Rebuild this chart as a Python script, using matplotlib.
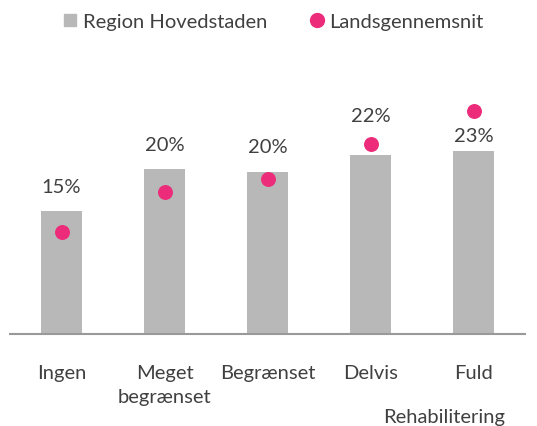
import matplotlib.pyplot as plt
import numpy as np

categories = ["Ingen", "Meget\nbegrænset", "Begrænset", "Delvis", "Fuld"]
region_values = [15.1, 20.4, 20.0, 22.1, 22.6]
region_labels = ["15%", "20%", "20%", "22%", "23%"]
national_values = [12.6, 17.5, 19.1, 23.4, 27.5]

plt.rcParams['font.family'] = ['Lato', 'DejaVu Sans']
text_color = "#404040"
bar_color = "#B8B8B8"
dot_color = "#EC2C7A"
fs = 14.5

fig = plt.figure(figsize=(5.37, 4.27), dpi=100)
ax = fig.add_axes([10 / 537, 0.216, 515 / 537, 243 / 427])

x = np.arange(len(categories))
ax.bar(x, region_values, width=0.4, color=bar_color, label="Region Hovedstaden", zorder=2)
ax.scatter(x, national_values, s=95, color=dot_color, label="Landsgennemsnit", zorder=3)

# labels were nudged by hand in the original so they don't hit the dots
label_offsets = [18, 17.5, 18, 28, 11]
for xi, v, lab, off in zip(x, region_values, region_labels, label_offsets):
    ax.annotate(lab, (xi, v), xytext=(0, off), textcoords="offset points",
                ha="center", va="center", fontsize=fs, color=text_color)

ax.set_xlim(-0.5, 4.5)
ax.set_ylim(0, 30)
ax.set_yticks([])
ax.set_xticks(x)
ax.set_xticklabels(categories, fontsize=fs, color=text_color, linespacing=1.45)
ax.tick_params(axis="x", length=0, pad=22)
for side in ["top", "right", "left"]:
    ax.spines[side].set_visible(False)
ax.spines["bottom"].set_color("#999999")
ax.spines["bottom"].set_linewidth(1.5)

fig.text(444 / 537, 1 - 426 / 427, "Rehabilitering", ha="center", va="bottom",
         fontsize=fs, color=text_color)

handles = [
    plt.Line2D([], [], marker="s", linestyle="", color=bar_color, markersize=9),
    plt.Line2D([], [], marker="o", linestyle="", color=dot_color, markersize=10),
]
leg = fig.legend(handles, ["Region Hovedstaden", "Landsgennemsnit"], loc="center",
                 bbox_to_anchor=(272 / 537, 1 - 22 / 427), ncol=2, frameon=False,
                 fontsize=fs, handletextpad=0.1, columnspacing=2.0, handlelength=1.0)
for t in leg.get_texts():
    t.set_color(text_color)

fig.savefig("out.png", dpi=100)
